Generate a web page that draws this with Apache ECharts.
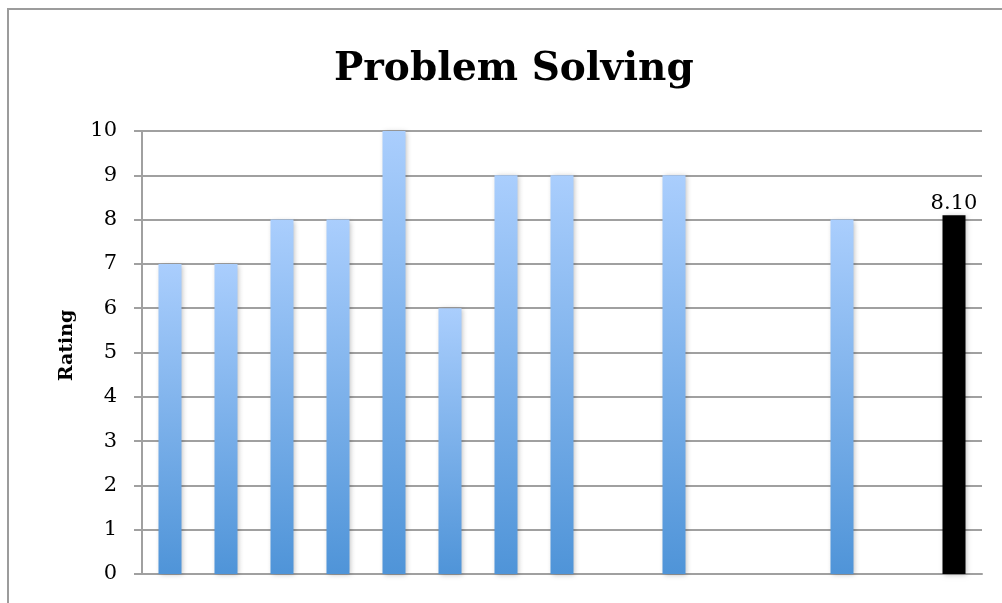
<!DOCTYPE html>
<html>
<head>
<meta charset="utf-8">
<script src="https://cdn.jsdelivr.net/npm/echarts@6.0.0/dist/echarts.min.js"></script>
<style>
  html, body { margin: 0; padding: 0; background: #fff; }
  #chart { width: 1002px; height: 603px; }
</style>
</head>
<body>
<div id="chart"></div>
<script>
// Individual ratings (blank slots have no entry), followed by the average bar
const categories = ['', '', '', '', '', '', '', '', '', '', '', '', '', '', ''];
const ratings = [7, 7, 8, 8, 10, 6, 9, 9, null, 9, null, null, 8, null];
const average = 8.10;
const yTicks = { min: 0, max: 10, interval: 1 };

const serif = '"DejaVu Serif", "Liberation Serif", serif';

const blueGradient = new echarts.graphic.LinearGradient(0, 0, 0, 1, [
  { offset: 0, color: '#aacefd' },
  { offset: 1, color: '#4f94d8' }
]);

const barData = ratings.map(v => (v === null ? null : { value: v }));
barData.push({
  value: average,
  itemStyle: { color: '#000000' },
  label: {
    show: true,
    position: 'top',
    distance: 1,
    formatter: p => p.value.toFixed(2),
    fontFamily: serif,
    fontSize: 21,
    color: '#000'
  }
});

const chart = echarts.init(document.getElementById('chart'), null, { renderer: 'canvas' });
chart.setOption({
  animation: false,
  backgroundColor: '#ffffff',
  graphic: [{
    type: 'rect',
    shape: { x: 8, y: 9, width: 1100, height: 700 },
    style: { fill: 'none', stroke: '#9c9c9c', lineWidth: 2 },
    silent: true,
    z: -1
  }],
  title: {
    text: 'Problem Solving',
    left: 329,
    top: 45,
    textStyle: {
      fontFamily: serif,
      fontWeight: 'bold',
      fontSize: 39,
      color: '#000'
    }
  },
  grid: { left: 142, right: 20, top: 131, bottom: 29, containLabel: false },
  xAxis: {
    type: 'category',
    data: categories,
    axisLine: { show: true, lineStyle: { color: '#a0a0a0', width: 2 } },
    axisTick: { show: false },
    axisLabel: { show: false },
    splitLine: { show: false }
  },
  yAxis: {
    type: 'value',
    min: yTicks.min,
    max: yTicks.max,
    interval: yTicks.interval,
    name: 'Rating',
    nameLocation: 'middle',
    nameGap: 65,
    nameRotate: 90,
    nameTextStyle: {
      fontFamily: serif,
      fontWeight: 'bold',
      fontSize: 19,
      color: '#000',
      padding: [0, 0, 0, 14]
    },
    axisLine: { show: true, lineStyle: { color: '#a0a0a0', width: 2 } },
    axisTick: { show: true, length: 8, lineStyle: { color: '#a0a0a0', width: 2 } },
    axisLabel: {
      fontFamily: serif,
      fontSize: 21,
      color: '#000',
      margin: 25
    },
    splitLine: { show: true, lineStyle: { color: '#a0a0a0', width: 2 } }
  },
  series: [{
    type: 'bar',
    data: barData,
    barWidth: 23,
    itemStyle: {
      color: blueGradient,
      shadowColor: 'rgba(0,0,0,0.25)',
      shadowBlur: 5,
      shadowOffsetX: 1,
      shadowOffsetY: 1
    }
  }]
});
</script>
</body>
</html>
